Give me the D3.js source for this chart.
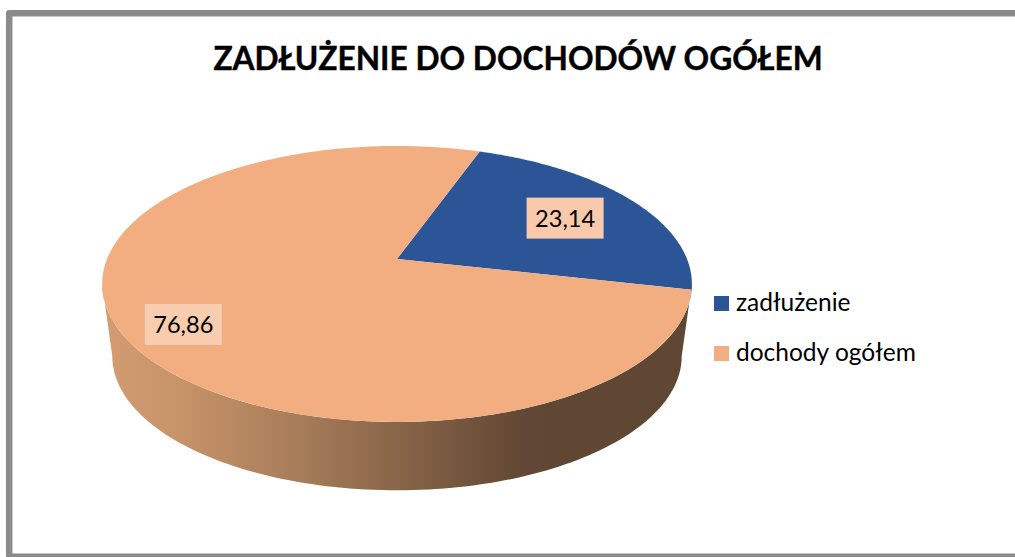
<!DOCTYPE html>
<html><head><meta charset="utf-8">
<style>html,body{margin:0;padding:0;background:#fff;overflow:hidden}svg{display:block}text{font-family:Lato,"Open Sans",sans-serif;fill:#000}</style>
<script src="https://cdn.jsdelivr.net/npm/d3@7"></script></head><body>
<script>
const titleText = "ZADŁUŻENIE DO DOCHODÓW OGÓŁEM";
const categories = ["zadłużenie", "dochody ogółem"];
const values = [23.14, 76.86];
const valueLabels = ["23,14", "76,86"];
const sliceColors = ["#2c5597", "#f2ae80"];
const labelColors = ["#f8c9aa", "#f8ccae"];

const W = 1015, H = 557;
const svg = d3.select("body").append("svg").attr("width", W).attr("height", H);

// Frame, open on the right
svg.append("path").attr("d", `M${W+5},13.2H9.2V556.8H${W+5}`).attr("fill", "none")
  .attr("stroke", "#8b8b8b").attr("stroke-width", 6.5).attr("stroke-linejoin", "round");

svg.append("text").attr("x", 518).attr("y", 70).attr("text-anchor", "middle")
  .attr("font-size", 31.7).attr("font-weight", 700)
  .style("stroke", "#000").style("stroke-width", 0.4).text(titleText);

// Perspective projection of the unit disc onto the pie's top and bottom faces
const persp = 0.181, cx = 397;
const topFace = {cy: 284, rx: 290, ry: 138, lift: 25};
const bottomFace = {cy: 356, rx: 280, ry: 134, lift: 24};
function project(face, angle, r = 1) {
  const u = r * Math.sin(angle), v = r * Math.cos(angle), d = 1 + persp * v;
  return [cx + face.rx * u / d, face.cy + (-face.lift - face.ry * v) / d];
}
const rad = d => d * Math.PI / 180;
const rotation = rad(19.5);
const arcs = d3.pie().sort(null).startAngle(rotation).endAngle(rotation + 2 * Math.PI)(values);
const color = d3.scaleOrdinal().domain(categories).range(sliceColors);
const line = d3.line();

// Side wall gradient
const stops = [[0, "#d39c72"], [0.12, "#c8946a"], [0.34, "#a67c59"], [0.5, "#896549"], [0.7, "#644935"], [0.76, "#5f4733"], [1, "#5f4733"]];
const grad = svg.append("defs").append("linearGradient").attr("id", "wall")
  .attr("gradientUnits", "userSpaceOnUse").attr("x1", 102).attr("x2", 692).attr("y1", 0).attr("y2", 0);
grad.selectAll("stop").data(stops).join("stop").attr("offset", d => d[0]).attr("stop-color", d => d[1]);

const tangentA = Math.PI - Math.asin(Math.sqrt(1 - persp * persp));
const tangentB = 2 * Math.PI - tangentA;
const sweep = d3.range(0, 121).map(i => tangentA + (tangentB - tangentA) * i / 120);
svg.append("path")
  .attr("d", line(sweep.map(a => project(topFace, a)).concat(sweep.slice().reverse().map(a => project(bottomFace, a)))) + "Z")
  .attr("fill", "url(#wall)");

// Top face
svg.selectAll("path.slice").data(arcs).join("path").attr("class", "slice")
  .attr("fill", (d, i) => color(categories[i]))
  .attr("d", d => {
    const n = 160;
    const rim = d3.range(n + 1).map(i => project(topFace, d.startAngle + (d.endAngle - d.startAngle) * i / n));
    return line([project(topFace, 0, 0), ...rim]) + "Z";
  });

// Value labels
const labelPlacement = [{r: 0.694, shift: 1.0}, {r: 0.813, shift: -4.8}];
arcs.forEach((d, i) => {
  const mid = (d.startAngle + d.endAngle) / 2 + rad(labelPlacement[i].shift);
  const [x, y] = project(topFace, mid, labelPlacement[i].r);
  const g = svg.append("g");
  g.append("rect").attr("fill", labelColors[i])
    .attr("x", x - 38.5).attr("y", y - 20.5).attr("width", 77).attr("height", 41);
  g.append("text").attr("x", x).attr("y", y + 8.5).attr("text-anchor", "middle")
    .attr("font-size", 23.6).text(valueLabels[i]);
});

// Legend
const legendY = d3.scalePoint().domain(categories).range([303.5, 353.5]);
const legend = svg.selectAll("g.legend").data(categories).join("g").attr("class", "legend")
  .attr("transform", d => `translate(714,${legendY(d)})`);
legend.append("rect").attr("x", 0).attr("y", -7.5).attr("width", 15).attr("height", 15).attr("fill", d => color(d));
legend.append("text").attr("x", 22).attr("y", 7.5).attr("font-size", 24.5).text(d => d);
</script></body></html>
